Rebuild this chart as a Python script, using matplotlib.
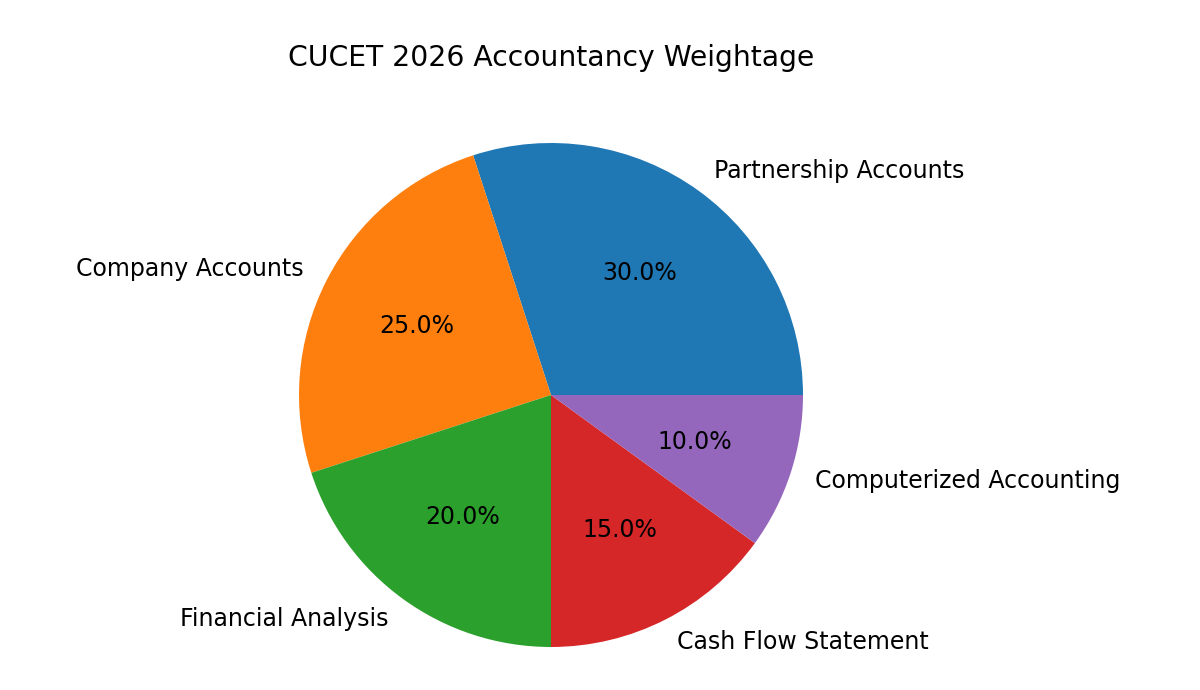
import matplotlib
matplotlib.use("Agg")
import matplotlib.pyplot as plt

categories = ["Partnership Accounts", "Company Accounts", "Financial Analysis",
              "Cash Flow Statement", "Computerized Accounting"]
weights = [30, 25, 20, 15, 10]
title = "CUCET 2026 Accountancy Weightage"

fig = plt.figure(figsize=(12, 6.9), dpi=100)
R = 252
cx, cy = 551, 395
ax = fig.add_axes([(cx - R) / 1200, (690 - cy - R) / 690, 2 * R / 1200, 2 * R / 690])
ax.pie(weights, labels=categories, autopct='%1.1f%%',
       textprops={'fontsize': 17})
ax.set_xlim(-1, 1)
ax.set_ylim(-1, 1)
ax.set_aspect('auto')
ax.axis('off')
fig.text(cx / 1200, 1 - 58 / 690, title, ha='center', va='center', fontsize=20.3)
fig.savefig("out.png", dpi=100)
